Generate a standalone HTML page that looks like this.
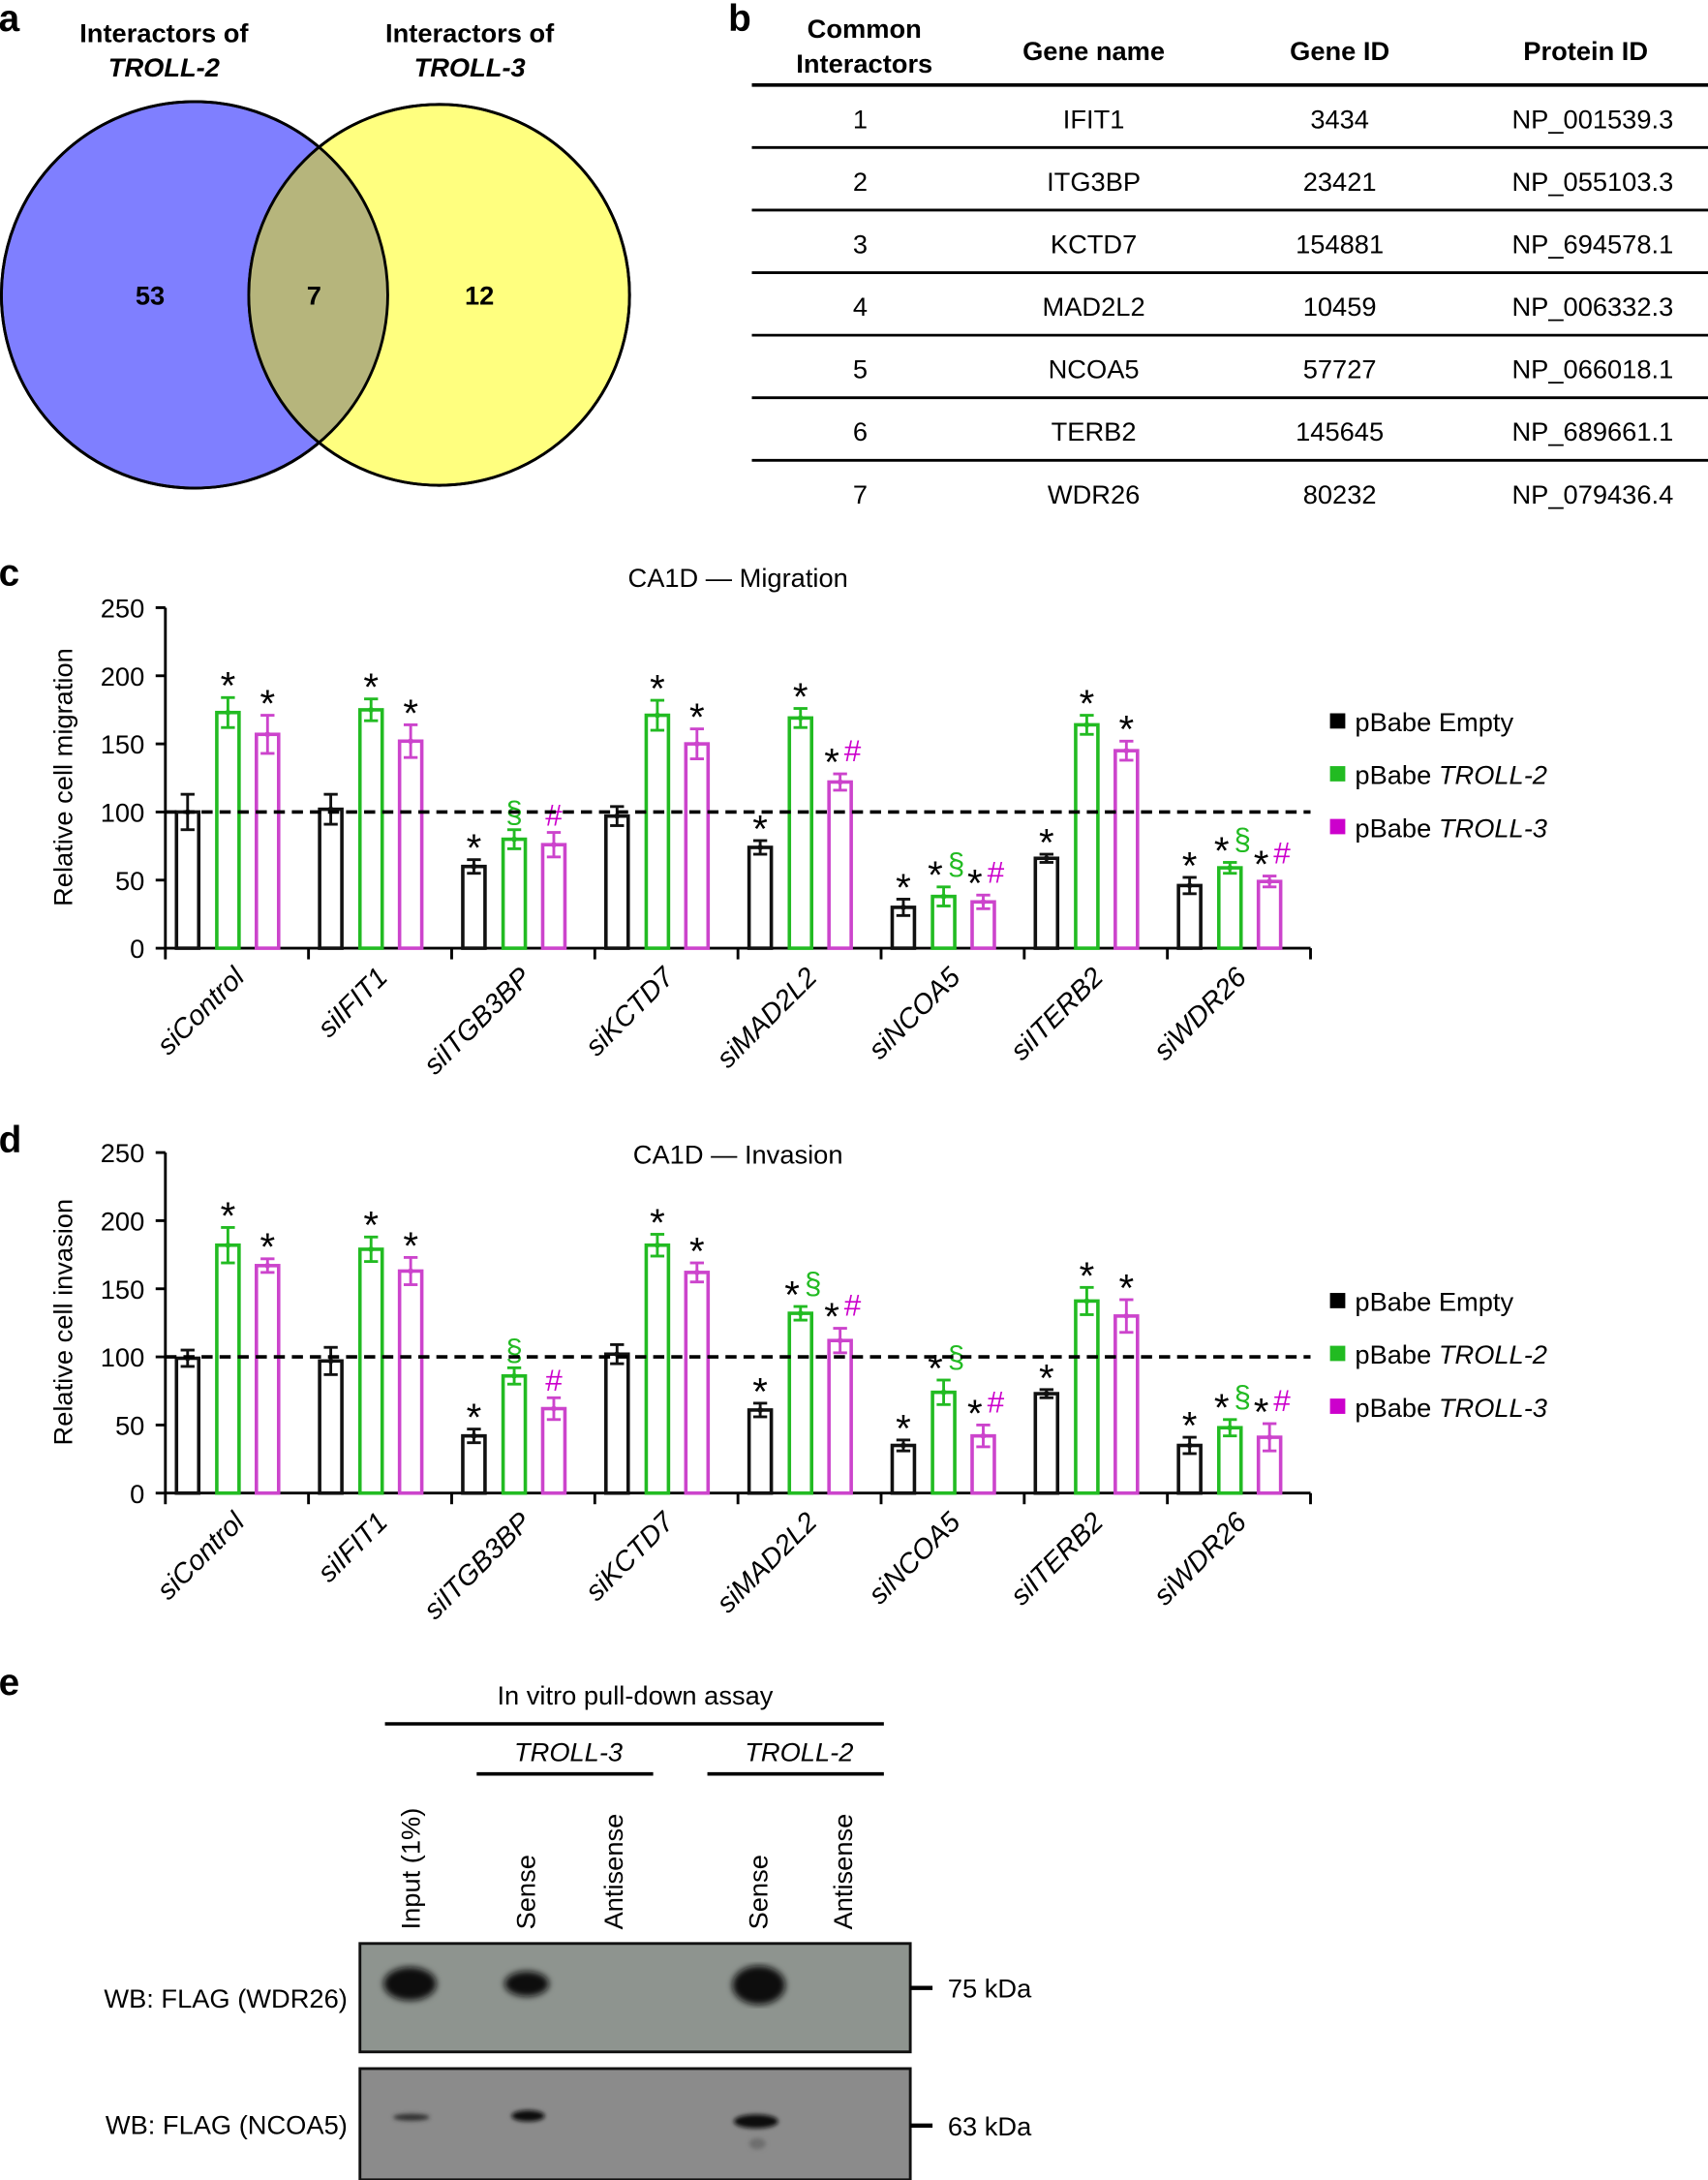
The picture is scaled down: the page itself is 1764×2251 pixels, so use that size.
<!DOCTYPE html>
<html><head><meta charset="utf-8">
<style>
html,body{margin:0;padding:0;background:#fff;}
svg{display:block;font-family:"Liberation Sans",Arial,sans-serif;}
</style></head>
<body>
<svg id="s" width="1764" height="2251" viewBox="0 0 1229 1568" xmlns="http://www.w3.org/2000/svg">
<rect width="1229" height="1568" fill="#fff"/>
<text x="-1" y="22" font-size="27" font-weight="bold">a</text>
<circle cx="140" cy="212" r="139" fill="#7f7fff" stroke="#000" stroke-width="2"/>
<circle cx="316" cy="212" r="137" fill="#ffff7f" stroke="#000" stroke-width="2"/>
<clipPath id="cl"><circle cx="140" cy="212" r="139"/></clipPath>
<circle cx="316" cy="212" r="137" fill="#b6b57c" clip-path="url(#cl)"/>
<circle cx="140" cy="212" r="139" fill="none" stroke="#000" stroke-width="2"/>
<circle cx="316" cy="212" r="137" fill="none" stroke="#000" stroke-width="2"/>
<g font-size="19" font-weight="bold" text-anchor="middle">
<text x="118" y="30">Interactors of</text><text x="118" y="55" font-style="italic">TROLL-2</text>
<text x="338" y="30">Interactors of</text><text x="338" y="55" font-style="italic">TROLL-3</text>
<text x="108" y="219">53</text><text x="226" y="219">7</text><text x="345" y="219">12</text>
</g>
<text x="524" y="22" font-size="27" font-weight="bold">b</text>
<g font-size="19" font-weight="bold" text-anchor="middle">
<text x="622" y="27">Common</text><text x="622" y="52">Interactors</text>
<text x="787" y="43">Gene name</text><text x="964" y="43">Gene ID</text><text x="1141" y="43">Protein ID</text>
</g>
<g id="tbl" font-size="19" text-anchor="middle"></g>
<text x="-1" y="421" font-size="27" font-weight="bold">c</text>
<text x="-1" y="829" font-size="27" font-weight="bold">d</text>
<g id="charts"></g>
<text x="-1" y="1219" font-size="27" font-weight="bold">e</text>
<g font-size="19" text-anchor="middle">
<text x="457" y="1226">In vitro pull-down assay</text>
<text x="409" y="1267" font-style="italic">TROLL-3</text>
<text x="575" y="1267" font-style="italic">TROLL-2</text>
</g>
<line x1="277" y1="1240" x2="636" y2="1240" stroke="#000" stroke-width="2.5"/>
<line x1="343" y1="1276" x2="470" y2="1276" stroke="#000" stroke-width="2.5"/>
<line x1="509" y1="1276" x2="636" y2="1276" stroke="#000" stroke-width="2.5"/>
<g font-size="19">
<text transform="translate(302,1388) rotate(-90)">Input (1%)</text>
<text transform="translate(385,1388) rotate(-90)">Sense</text>
<text transform="translate(448,1388) rotate(-90)">Antisense</text>
<text transform="translate(552,1388) rotate(-90)">Sense</text>
<text transform="translate(613,1388) rotate(-90)">Antisense</text>
</g>
<defs>
<filter id="bl"><feGaussianBlur stdDeviation="2.5"/></filter>
<filter id="bl2"><feGaussianBlur stdDeviation="1.5"/></filter>
</defs>
<rect x="259" y="1398" width="396" height="78" fill="#8e948f" stroke="#111" stroke-width="2"/>
<g fill="#111" filter="url(#bl)">
<ellipse cx="295" cy="1427" rx="19" ry="12"/>
<ellipse cx="379" cy="1427" rx="16" ry="9"/>
<ellipse cx="546" cy="1428" rx="19" ry="14"/>
</g>
<rect x="259" y="1488" width="396" height="80" fill="#8b8b8b" stroke="#111" stroke-width="2"/>
<g fill="#111" filter="url(#bl2)">
<ellipse cx="296" cy="1523" rx="13" ry="2.5" fill="#333"/>
<ellipse cx="380" cy="1522" rx="12" ry="4"/>
<ellipse cx="544" cy="1526" rx="16" ry="5"/>
<ellipse cx="545" cy="1542" rx="6" ry="4" fill="#6e6e6e"/>
</g>
<line x1="655" y1="1430" x2="671" y2="1430" stroke="#000" stroke-width="3"/>
<line x1="655" y1="1529" x2="671" y2="1529" stroke="#000" stroke-width="3"/>
<g font-size="19">
<text x="682" y="1437">75 kDa</text><text x="682" y="1536">63 kDa</text>
<text x="250" y="1444" text-anchor="end">WB: FLAG (WDR26)</text>
<text x="250" y="1535" text-anchor="end">WB: FLAG (NCOA5)</text>
</g>
</svg>
<script>
var NS="http://www.w3.org/2000/svg";
function el(p,t,a,txt){var e=document.createElementNS(NS,t);for(var k in a)e.setAttribute(k,a[k]);if(txt!=null)e.textContent=txt;p.appendChild(e);return e;}
var tb=document.getElementById('tbl');
var rows=[["1","IFIT1","3434","NP_001539.3"],["2","ITG3BP","23421","NP_055103.3"],["3","KCTD7","154881","NP_694578.1"],["4","MAD2L2","10459","NP_006332.3"],["5","NCOA5","57727","NP_066018.1"],["6","TERB2","145645","NP_689661.1"],["7","WDR26","80232","NP_079436.4"]];
var cx=[619,787,964,1146];
el(tb,'line',{x1:541,y1:61,x2:1229,y2:61,stroke:'#000','stroke-width':2.5});
rows.forEach(function(r,i){var y=92+45*i;r.forEach(function(v,j){el(tb,'text',{x:cx[j],y:y},v);});
 if(i<6)el(tb,'line',{x1:541,y1:106+45*i,x2:1229,y2:106+45*i,stroke:'#000','stroke-width':2});});
var G='#22bb22',M='#cc44cc',MT='#cc00cc',GT='#22bb22';
var names=["siControl","siIFIT1","siITGB3BP","siKCTD7","siMAD2L2","siNCOA5","siITERB2","siWDR26"];
var mig=[[100,13,173,11,157,14],[102,11,175,8,152,12],[60,5,80,7,76,9],[97,7,171,11,150,11],[74,5,169,7,122,6],[30,6,38,7,34,5],[66,3,164,7,145,7],[46,6,59,4,49,4]];
var migA=[["","*","*"],["","*","*"],["*","§","#"],["","*","*"],["*","*","*#"],["*","*§","*#"],["*","*","*"],["*","*§","*#"]];
var inv=[[99,6,182,13,167,5],[97,10,179,9,163,10],[42,5,86,6,62,8],[102,7,182,8,162,7],[61,5,132,5,112,9],[35,4,74,9,42,8],[73,3,141,10,130,12],[35,6,48,6,41,10]];
var invA=[["","*","*"],["","*","*"],["*","§","#"],["","*","*"],["*","*§","*#"],["*","*§","*#"],["*","*","*"],["*","*§","*#"]];
var ch=document.getElementById('charts');
function chart(top,title,titleY,ylab,data,ann,legY){
 var y0=top+245,k=245/250;
 function Y(v){return y0-v*k;}
 el(ch,'text',{x:531,y:titleY,'font-size':19,'text-anchor':'middle'},title);
 el(ch,'line',{x1:119,y1:top,x2:119,y2:y0,stroke:'#000','stroke-width':2});
 el(ch,'line',{x1:119,y1:y0,x2:943,y2:y0,stroke:'#000','stroke-width':2});
 for(var v=0;v<=250;v+=50){el(ch,'line',{x1:112,y1:Y(v),x2:119,y2:Y(v),stroke:'#000','stroke-width':2});
  el(ch,'text',{x:104,y:Y(v)+7,'font-size':19,'text-anchor':'end'},String(v));}
 for(var g=0;g<=8;g++)el(ch,'line',{x1:119+103*g,y1:y0,x2:119+103*g,y2:y0+8,stroke:'#000','stroke-width':2});
 el(ch,'text',{transform:'translate(52,'+(top+122)+') rotate(-90)','font-size':19,'text-anchor':'middle'},ylab);
 var cols=['#111',G,M],off=[16,45,73.5];
 data.forEach(function(d,g){
  for(var b=0;b<3;b++){var x=119+103*g+off[b],v=d[2*b],e=d[2*b+1];
   el(ch,'rect',{x:x-8,y:Y(v),width:16,height:y0-Y(v),fill:'none',stroke:cols[b],'stroke-width':2.5});
   el(ch,'line',{x1:x,y1:Y(v+e),x2:x,y2:Y(v-e),stroke:cols[b],'stroke-width':2});
   el(ch,'line',{x1:x-5,y1:Y(v+e),x2:x+5,y2:Y(v+e),stroke:cols[b],'stroke-width':2});
   el(ch,'line',{x1:x-5,y1:Y(v-e),x2:x+5,y2:Y(v-e),stroke:cols[b],'stroke-width':2});
   el(ch,'circle',{cx:x,cy:Y(v),r:2,fill:cols[b]});
   var a=ann[g][b];
   if(a){var cap=Y(v+e);
    if(a=='*'){el(ch,'text',{x:x,y:cap+1,'font-size':28,'text-anchor':'middle',fill:'#000'},'*');}
    else if(a.length==1){el(ch,'text',{x:x,y:cap-5,'font-size':22,'text-anchor':'middle',fill:b==1?GT:MT},a);}
    else{el(ch,'text',{x:x-6,y:cap+1,'font-size':28,'text-anchor':'middle',fill:'#000'},'*');
     el(ch,'text',{x:x+9,y:cap-9,'font-size':22,'text-anchor':'middle',fill:b==1?GT:MT},a[1]);}
   }}
  el(ch,'text',{transform:'translate('+(119+103*g+58)+','+(y0+22)+') rotate(-45)','font-size':20,'font-style':'italic','text-anchor':'end'},names[g]);
 });
 el(ch,'line',{x1:119,y1:Y(100),x2:943,y2:Y(100),stroke:'#000','stroke-width':2.5,'stroke-dasharray':'8,5'});
 var L=[['#000','pBabe Empty',''],['#22bb22','pBabe ','TROLL-2'],['#cc00cc','pBabe ','TROLL-3']];
 L.forEach(function(l,i){var y=legY+38*i;el(ch,'rect',{x:957,y:y-6,width:11,height:11,fill:l[0]});
  var t=el(ch,'text',{x:975,y:y+7,'font-size':19},l[1]);if(l[2])el(t,'tspan',{'font-style':'italic'},l[2]);});
}
chart(437,'CA1D — Migration',422,'Relative cell migration',mig,migA,519);
chart(829,'CA1D — Invasion',837,'Relative cell invasion',inv,invA,936);
</script>
</body></html>
